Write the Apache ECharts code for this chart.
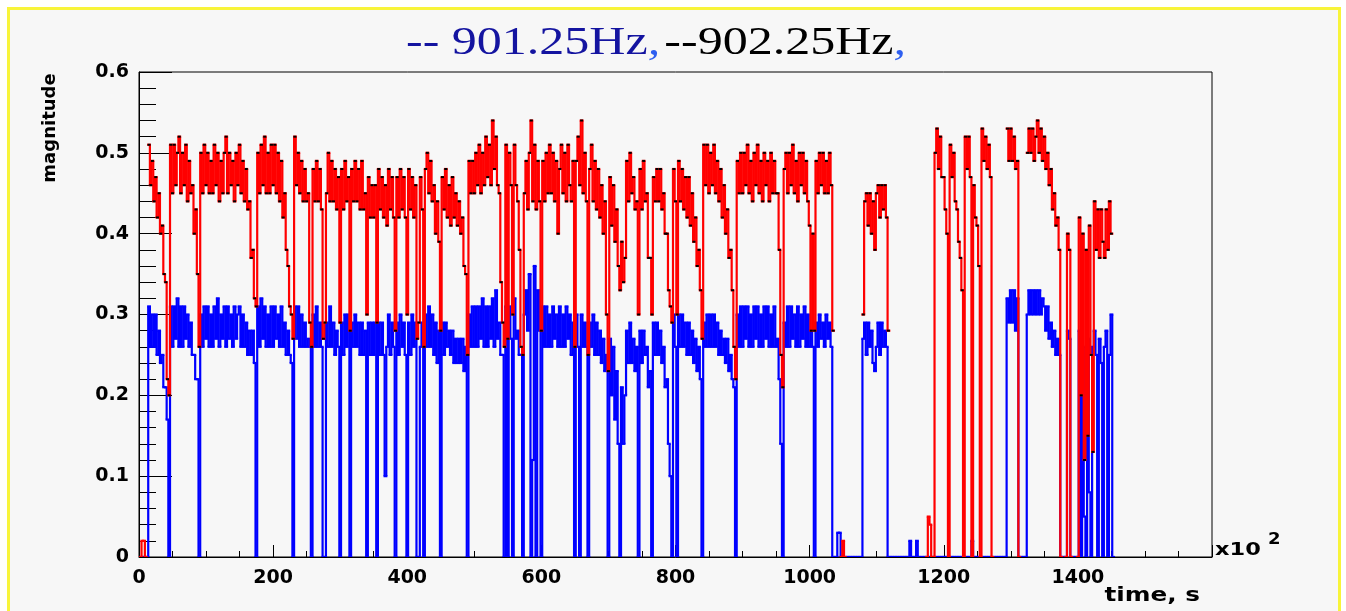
<!DOCTYPE html>
<html>
<head>
<meta charset="utf-8">
<script src="https://cdn.jsdelivr.net/npm/echarts@6/dist/echarts.min.js"></script>
<style>
	html, body { margin: 0; padding: 0; background: #fff; }
	#frame {
		position: absolute; left: 7px; top: 7px; width: 1328px; height: 640px;
		background: #f7f7f7; border: 3px solid #f8f43a; border-bottom: none;
	}
	#chart { position: absolute; left: 0; top: 0; width: 1346px; height: 611px; }
</style>
</head>
<body>
<div id="frame"></div>
<div id="chart"></div>
<script>
// one sample every 2.5 units of the time axis, starting at 0 (rows = 50 units)
const T_STEP = 2.5;

// 902.25Hz (red, black markers); null = no red trace drawn
const red902 = [
	null, 0, .02, .02, 0, null, .51, .46, .49, .44, .47, .42, .45, .40, .41, .35, .34, .22, .20, .51,
	.45, .51, .46, .50, .52, .45, .50, .46, .51, .44, .49, .45, .46, .40, .43, .35, .26, .50, .45, .51,
	.46, .50, .45, .49, .45, .51, .46, .50, .44, .49, .45, .50, .52, .45, .50, .46, .49, .44, .50, .46,
	.51, .45, .49, .44, .48, .43, .44, .37, .38, .32, .31, .50, .45, .51, .46, .52, .45, .50, .45, .51,
	.46, .51, .45, .50, .44, .49, .42, .45, .38, .36, .31, .30, .27, .52, .46, .50, .45, .49, .44, .48,
	.44, .45, .29, .26, .48, .44, .49, .44, .48, .43, .27, .29, .45, .50, .44, .49, .44, .48, .43, .47,
	.29, .48, .43, .49, .44, .47, .28, .48, .44, .49, .44, .48, .43, .49, .43, .45, .30, .47, .42, .46,
	.42, .46, .29, .48, .43, .47, .42, .46, .41, .48, .43, .47, .42, .28, .47, .42, .48, .43, .47, .42,
	.30, .48, .43, .47, .42, .46, .27, .29, .47, .43, .26, .48, .50, .45, .49, .44, .46, .40, .44, .39,
	.28, .47, .43, .48, .42, .46, .41, .47, .42, .45, .41, .44, .40, .42, .36, .35, .25, .49, .45, .49,
	.45, .50, .46, .51, .45, .50, .46, .52, .47, .51, .46, .54, .48, .52, .46, .45, .34, .29, .26, .51,
	.27, .50, .46, .30, .51, .46, .44, .38, .26, .25, .45, .49, .43, .50, .54, .44, .51, .43, .49, .44,
	.28, .49, .44, .50, .45, .51, .45, .50, .44, .49, .40, .48, .51, .45, .50, .44, .51, .46, .44, .49,
	.26, .49, .52, .46, .54, .45, .50, .44, .25, .48, .51, .44, .49, .43, .48, .42, .46, .40, .44, .30,
	.23, .47, .41, .46, .39, .43, .36, .33, .39, .34, .37, .49, .44, .50, .45, .47, .43, .44, .30, .48,
	.43, .49, .44, .45, .37, .37, .30, .47, .44, .48, .44, .48, .43, .45, .40, .40, .33, .31, .29, .48,
	.44, .30, .49, .44, .48, .43, .47, .42, .47, .41, .45, .39, .42, .36, .38, .33, .27, .51, .46, .51,
	.45, .50, .46, .51, .45, .49, .44, .48, .42, .46, .40, .43, .37, .38, .33, .26, .22, .49, .45, .50,
	.45, .50, .46, .51, .45, .49, .44, .50, .46, .51, .45, .49, .44, .50, .46, .49, .44, .50, .45, .49,
	.45, .45, .38, .25, .21, .48, .50, .45, .50, .46, .51, .45, .49, .44, .50, .46, .50, .45, .49, .44,
	.41, .28, .40, .28, .49, .45, .50, .46, .50, .45, .49, .45, .50, .46, .28, null, null, null, null, 0,
	.02, 0, null, null, null, null, null, null, null, null, null, null, .30, .44, .45, .41, .45, .40, .44, .38,
	.45, .46, .42, .46, .43, .46, .42, .28, null, null, null, null, null, null, null, null, null, null, null, null,
	null, null, null, null, null, null, null, null, null, null, 0, .05, .04, 0, 0, .50, .53, .48, .52, .47,
	.47, .43, .40, 0, .51, .47, .50, .44, .43, .39, .37, .33, 0, .52, .48, .52, .47, 0, .46, .42,
	.41, .36, 0, .53, .49, .52, .48, .51, .47, 0, null, null, null, null, null, null, null, null, .53, .49,
	.53, .49, .52, .48, .49, 0, null, null, null, null, .50, .53, .50, .53, .49, .52, .54, .50, .53, .49,
	.52, .48, .50, .46, .48, .43, .45, .41, .42, .38, 0, null, null, 0, .40, .38, 0, null, null, null,
	0, .42, .20, .40, .12, .38, .15, .41, .25, .13, .44, .38, .43, .37, .43, .39, .37, .43, .38, .44,
	.40, null
];

// 901.25Hz (blue)
const blue901 = [
	0, 0, 0, 0, 0, 0, .31, .26, .30, .26, .30, .25, .28, .24, .25, .21, .21, .17, 0, .31,
	.26, .31, .27, .32, .26, .31, .26, .31, .27, .30, .26, .29, .25, .25, .22, .22, 0, .30, .26, .31,
	.27, .31, .26, .30, .26, .31, .27, .32, .26, .30, .27, .31, .26, .31, .27, .30, .26, .31, .27, .30,
	.31, .26, .30, .26, .29, .25, .28, .25, .28, .24, 0, .31, .26, .32, .27, .31, .26, .30, .26, .31,
	.26, .31, .27, .30, .26, .31, .26, .29, .25, .28, .25, .24, 0, .31, .27, .31, .26, .30, .26, .29,
	.26, .27, .26, 0, .30, .26, .31, .26, .29, .26, 0, 0, .29, .26, .31, .26, .29, .25, .28, .26,
	0, .29, .25, .30, .26, .30, 0, .29, .26, .30, .26, .29, .25, .29, .25, .28, 0, .29, .25, .29,
	.25, .29, 0, .29, .25, .29, .25, .10, .26, .30, .25, .29, .26, 0, .29, .25, .30, .26, .29, .25,
	0, .29, .25, .30, .26, .29, 0, 0, .26, .29, 0, .30, .26, .31, .26, .30, .25, .29, .24, .28,
	0, .29, .25, .29, .26, .28, .25, .28, .24, .27, .24, .27, .24, .27, .23, .26, 0, .30, .26, .31,
	.26, .31, .26, .31, .27, .32, .26, .31, .26, .31, .27, .32, .26, .33, .27, .29, .25, .25, 0, .31,
	0, .31, .27, 0, .32, .27, .28, .25, .25, 0, .30, .33, .28, .35, 0, .12, .36, 0, .33, .28,
	0, .31, .26, .31, .26, .30, .26, .31, .27, .30, .26, .31, .26, .30, .26, .31, .27, .30, .25, .29,
	0, .30, .26, 0, .30, .26, .29, .26, 0, .29, .26, .30, .25, .29, .25, .28, .24, .27, .23, .25,
	0, .27, .20, .26, .17, .23, .14, 0, .21, .14, .20, .28, .24, .29, .24, .27, .23, .26, 0, .28,
	.24, .28, .25, .26, .21, .23, 0, .29, .25, .29, .25, .28, .24, .26, .21, .22, .14, .10, 0, .30,
	.26, 0, .30, .26, .30, .26, .29, .25, .29, .25, .28, .24, .27, .23, .26, .22, 0, .29, .26, .30,
	.26, .30, .26, .30, .26, .29, .25, .28, .25, .27, .24, .27, .23, .25, .22, .21, 0, .30, .26, .31,
	.26, .31, .27, .31, .26, .30, .26, .31, .27, .31, .26, .30, .26, .31, .27, .31, .26, .30, .26, .31,
	.26, .27, .22, .14, 0, .29, .26, .31, .26, .31, .27, .30, .26, .31, .26, .30, .27, .31, .26, .30,
	.26, .28, .26, 0, .29, .26, .30, .27, .29, .26, .30, .27, .29, .26, 0, 0, 0, .03, .03, 0,
	0, 0, 0, 0, 0, 0, 0, 0, 0, 0, 0, 0, .27, .29, .25, .29, .26, .28, .24, .23,
	.26, .29, .25, .29, .26, .28, .26, 0, 0, 0, 0, 0, 0, 0, 0, 0, 0, 0, 0, 0,
	.02, 0, 0, 0, .02, 0, 0, 0, 0, 0, 0, 0, 0, 0, 0, 0, 0, 0, 0, 0,
	0, 0, 0, 0, 0, 0, 0, 0, 0, 0, 0, 0, 0, 0, 0, 0, 0, .02, 0, 0,
	0, 0, 0, 0, 0, 0, 0, 0, 0, 0, 0, 0, 0, 0, 0, 0, 0, 0, .32, .29,
	.33, .29, .33, .28, .32, 0, 0, 0, 0, 0, .30, .33, .30, .33, .30, .33, .30, .33, .30, .32,
	.31, .28, .31, .27, .29, .26, .28, .25, .27, .25, 0, 0, 0, 0, .28, .27, 0, 0, 0, 0,
	0, .28, 0, .26, .05, 0, .27, .08, 0, .26, .28, .25, 0, .27, .24, 0, .26, .28, 0, .25,
	.30, 0
];

const xTicks = [0, 200, 400, 600, 800, 1000, 1200, 1400];
const yTicks = [0, 0.1, 0.2, 0.3, 0.4, 0.5, 0.6];

const times = blue901.map((_, i) => i * T_STEP);

// [time, value, previous value] so every bin can draw its step from the previous level
const toSteps = arr => arr.map((v, i) => [times[i], v, i > 0 ? arr[i - 1] : null]);
const redData = toSteps(red902);
const blueData = toSteps(blue901);
const markerData = [];
red902.forEach((v, i) => {
	if (v !== null && v > 0.1) markerData.push([times[i], v]);
});

const ok = v => v !== null && v !== undefined && isFinite(v);

// histogram-like step trace: a vertical from the previous level, then a flat cap
const stepRenderer = color => (params, api) => {
	const t = api.value(0);
	const v = api.value(1);
	const p = api.value(2);
	if (!ok(v)) return null;
	const half = T_STEP / 2;
	const a = api.coord([t - half, v]);
	const b = api.coord([t + half, v]);
	const w = 2.2;
	const children = [{
		type: 'rect',
		shape: {x: a[0] - w / 2, y: a[1] - w / 2, width: b[0] - a[0] + w, height: w},
		style: {fill: color}
	}];
	if (ok(p)) {
		const yp = api.coord([t, p])[1];
		children.push({
			type: 'rect',
			shape: {x: a[0] - w / 2, y: Math.min(yp, a[1]), width: w, height: Math.abs(yp - a[1])},
			style: {fill: color}
		});
	}
	return {type: 'group', children};
};

const labelFont = {
	color: '#000',
	fontFamily: 'DejaVu Sans',
	fontWeight: 'bold',
	fontSize: 19
};

const chart = echarts.init(document.getElementById('chart'), null, {renderer: 'canvas'});

chart.setOption({
	animation: false,
	backgroundColor: 'transparent',
	grid: {
		left: 139,
		right: 134,
		top: 72,
		bottom: 54,
		show: true,
		borderColor: '#000',
		borderWidth: 1,
		backgroundColor: 'transparent'
	},
	xAxis: {
		type: 'value',
		min: 0,
		max: 1600,
		interval: 200,
		axisLine: {lineStyle: {color: '#000', width: 1}},
		axisTick: {inside: true, length: 12, lineStyle: {color: '#000'}},
		minorTick: {show: true, splitNumber: 4, length: 6, lineStyle: {color: '#000'}},
		splitLine: {show: false},
		axisLabel: Object.assign({
			margin: 12,
			formatter: v => (xTicks.indexOf(v) >= 0 ? String(v) : '')
		}, labelFont)
	},
	yAxis: {
		type: 'value',
		min: 0,
		max: 0.6,
		interval: 0.1,
		axisLine: {show: true, lineStyle: {color: '#000', width: 1}},
		axisTick: {show: true, inside: true, length: 33, lineStyle: {color: '#000'}},
		minorTick: {show: true, splitNumber: 5, length: 17, lineStyle: {color: '#000'}},
		splitLine: {show: false},
		axisLabel: Object.assign({
			margin: 10,
			formatter: v => {
				const t = yTicks.find(y => Math.abs(y - v) < 1e-6);
				return t === undefined ? '' : (t === 0 ? '0' : t.toFixed(1));
			}
		}, labelFont)
	},
	graphic: [
		{
			type: 'text',
			x: 656,
			y: 43,
			scaleX: 1.25,
			style: {
				text: '{a|-- 901.25Hz}{c|,} {b|--902.25Hz}{c|,}',
				align: 'center',
				verticalAlign: 'middle',
				rich: {
					a: {fontFamily: 'Liberation Serif', fontSize: 40, fill: '#1414a0'},
					b: {fontFamily: 'Liberation Serif', fontSize: 40, fill: '#000'},
					c: {fontFamily: 'Liberation Serif', fontSize: 40, fill: '#2e5ff0', fontStyle: 'italic'}
				}
			}
		},
		{
			type: 'text',
			x: 50,
			y: 128,
			rotation: Math.PI / 2,
			style: {
				text: 'magnitude',
				align: 'center',
				verticalAlign: 'middle',
				fill: '#000',
				font: 'bold 18px "DejaVu Sans"'
			}
		},
		{
			type: 'text',
			x: 1200,
			y: 596,
			scaleX: 1.3,
			style: {
				text: 'time, s',
				align: 'right',
				verticalAlign: 'middle',
				fill: '#000',
				font: 'bold 19px "DejaVu Sans"'
			}
		},
		{
			type: 'text',
			x: 1215,
			y: 550,
			scaleX: 1.25,
			style: {
				text: 'x10',
				align: 'left',
				verticalAlign: 'middle',
				fill: '#000',
				font: 'bold 18px "DejaVu Sans"'
			}
		},
		{
			type: 'text',
			x: 1268,
			y: 540,
			scaleX: 1.2,
			style: {
				text: '2',
				align: 'left',
				verticalAlign: 'middle',
				fill: '#000',
				font: 'bold 15px "DejaVu Sans"'
			}
		}
	],
	series: [
		{
			name: '901.25Hz',
			type: 'custom',
			renderItem: stepRenderer('#0000ff'),
			encode: {x: 0, y: 1},
			data: blueData,
			clip: true,
			z: 2
		},
		{
			name: '902.25Hz',
			type: 'custom',
			renderItem: stepRenderer('#ff0000'),
			encode: {x: 0, y: 1},
			data: redData,
			clip: true,
			z: 3
		},
		{
			name: '902.25Hz markers',
			type: 'scatter',
			data: markerData,
			symbol: 'rect',
			symbolSize: [3, 2],
			itemStyle: {color: '#000000', opacity: 1},
			silent: true,
			z: 10
		}
	]
});
</script>
</body>
</html>
